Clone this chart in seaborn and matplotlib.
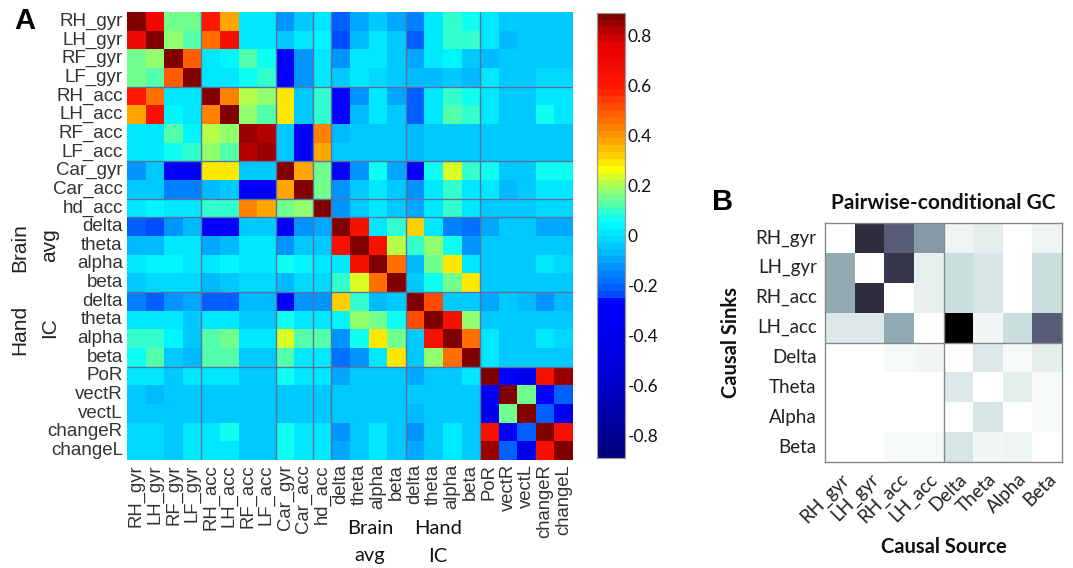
import numpy as np
import pandas as pd
import seaborn as sns
import matplotlib
matplotlib.use("Agg")
import matplotlib.pyplot as plt
from matplotlib.colors import LinearSegmentedColormap

# ---------------- data ----------------
corr_labels = ["RH_gyr", "LH_gyr", "RF_gyr", "LF_gyr", "RH_acc", "LH_acc", "RF_acc", "LF_acc",
               "Car_gyr", "Car_acc", "hd_acc", "delta", "theta", "alpha", "beta",
               "delta", "theta", "alpha", "beta", "PoR", "vectR", "vectL", "changeR", "changeL"]

corr_values = [
    [0.89, 0.7, 0.15, 0.15, 0.6, 0.37, 0.02, 0.02, -0.12, -0.05, 0.02, -0.2, -0.1, -0.05, -0.1, -0.15, 0.0, 0.1, 0.07, 0.0, -0.03, -0.03, -0.03, -0.03],
    [0.7, 0.89, 0.18, 0.12, 0.45, 0.65, 0.02, 0.02, -0.05, 0.0, 0.04, -0.25, -0.08, 0.02, -0.05, -0.2, 0.0, 0.1, 0.1, 0.0, -0.07, -0.03, -0.03, -0.03],
    [0.15, 0.18, 0.89, 0.48, 0.0, 0.03, 0.13, 0.08, -0.3, -0.12, 0.02, -0.12, 0.0, 0.02, -0.03, -0.1, 0.0, 0.03, -0.03, -0.07, -0.04, -0.04, -0.04, -0.04],
    [0.15, 0.12, 0.48, 0.89, 0.0, 0.0, 0.07, 0.1, -0.3, -0.12, 0.0, -0.05, 0.0, -0.02, -0.03, -0.08, -0.07, -0.05, -0.07, 0.0, -0.05, -0.05, -0.02, -0.02],
    [0.6, 0.45, 0.02, 0.0, 0.89, 0.42, 0.2, 0.17, 0.28, -0.05, 0.1, -0.28, -0.12, 0.0, -0.1, -0.2, 0.02, 0.1, 0.08, 0.02, -0.03, -0.03, 0.0, 0.0],
    [0.37, 0.65, 0.03, 0.0, 0.42, 0.89, 0.17, 0.13, 0.28, -0.03, 0.1, -0.28, -0.08, 0.02, -0.05, -0.2, 0.02, 0.13, 0.1, 0.02, -0.03, -0.03, 0.06, 0.02],
    [0.0, 0.0, 0.13, 0.05, 0.2, 0.17, 0.86, 0.83, -0.05, -0.32, 0.42, -0.06, -0.04, -0.04, -0.04, -0.07, -0.05, -0.03, -0.04, -0.04, -0.04, -0.04, -0.04, -0.04],
    [0.0, 0.0, 0.07, 0.09, 0.17, 0.13, 0.83, 0.86, -0.05, -0.32, 0.38, -0.05, -0.04, -0.03, -0.04, -0.07, -0.04, -0.03, -0.04, -0.04, -0.04, -0.04, -0.04, -0.04],
    [-0.12, -0.05, -0.32, -0.32, 0.28, 0.28, -0.05, -0.05, 0.89, 0.37, 0.15, -0.35, -0.12, 0.08, -0.1, -0.3, 0.06, 0.25, 0.1, 0.06, -0.03, -0.03, 0.08, 0.08],
    [-0.05, -0.03, -0.15, -0.15, -0.07, -0.05, -0.32, -0.32, 0.37, 0.89, 0.15, -0.12, -0.05, 0.02, -0.03, -0.12, 0.02, 0.1, 0.0, 0.0, -0.06, -0.03, 0.0, 0.0],
    [0.02, 0.03, 0.02, 0.0, 0.1, 0.1, 0.42, 0.38, 0.15, 0.17, 0.89, -0.12, -0.05, 0.02, -0.03, -0.1, 0.02, 0.1, 0.02, -0.03, -0.05, -0.04, -0.02, -0.02],
    [-0.2, -0.25, -0.12, -0.08, -0.28, -0.28, -0.05, -0.05, -0.35, -0.12, -0.1, 0.89, 0.65, 0.02, 0.1, 0.33, 0.02, -0.15, -0.18, -0.1, -0.05, -0.05, -0.1, -0.1],
    [-0.07, -0.07, 0.0, 0.0, -0.1, -0.08, 0.0, 0.0, -0.12, -0.05, -0.05, 0.65, 0.89, 0.65, 0.22, 0.1, 0.18, 0.08, -0.12, -0.03, -0.03, -0.03, -0.05, -0.03],
    [0.0, 0.03, 0.03, 0.02, 0.0, 0.03, 0.0, 0.0, 0.08, 0.03, 0.02, 0.02, 0.65, 0.89, 0.45, -0.07, 0.15, 0.3, 0.02, -0.03, -0.05, -0.03, 0.0, -0.02],
    [-0.05, -0.02, -0.02, -0.02, -0.07, -0.05, -0.02, -0.02, -0.08, -0.02, -0.02, 0.1, 0.25, 0.45, 0.89, -0.05, 0.07, 0.15, 0.3, -0.04, -0.04, -0.04, -0.04, -0.04],
    [-0.15, -0.2, -0.12, -0.1, -0.22, -0.22, -0.07, -0.07, -0.3, -0.12, -0.12, 0.33, 0.1, -0.07, -0.05, 0.89, 0.52, -0.03, -0.03, -0.1, -0.05, -0.08, -0.12, -0.08],
    [0.0, 0.0, 0.0, -0.05, 0.02, 0.02, -0.03, -0.03, 0.08, 0.02, 0.02, 0.03, 0.17, 0.15, 0.08, 0.52, 0.89, 0.65, 0.17, -0.03, -0.05, -0.05, -0.03, -0.03],
    [0.1, 0.1, 0.03, -0.03, 0.13, 0.15, 0.0, 0.0, 0.25, 0.13, 0.13, -0.12, 0.08, 0.3, 0.15, -0.03, 0.65, 0.89, 0.45, 0.0, -0.05, -0.03, 0.02, -0.02],
    [0.08, 0.12, -0.03, -0.07, 0.12, 0.13, -0.03, -0.03, 0.13, 0.02, 0.02, -0.18, -0.12, 0.02, 0.3, -0.03, 0.17, 0.45, 0.89, 0.0, -0.05, -0.05, -0.03, -0.05],
    [0.0, 0.0, -0.05, 0.02, 0.02, 0.02, -0.03, -0.03, 0.06, 0.0, 0.0, -0.1, -0.05, -0.03, -0.05, -0.1, -0.05, -0.03, 0.0, 0.89, -0.3, -0.4, 0.65, 0.85],
    [-0.03, -0.07, -0.03, -0.05, -0.03, -0.03, -0.03, -0.03, -0.03, -0.05, -0.05, -0.05, -0.05, -0.05, -0.05, -0.05, -0.05, -0.05, -0.05, -0.3, 0.89, 0.15, -0.3, -0.2],
    [-0.03, -0.03, -0.03, -0.05, -0.03, -0.03, -0.03, -0.03, -0.03, -0.05, -0.03, -0.05, -0.04, -0.04, -0.04, -0.06, -0.04, -0.04, -0.05, -0.4, 0.15, 0.89, -0.2, -0.4],
    [-0.02, -0.02, -0.03, 0.0, 0.02, 0.06, -0.03, -0.03, 0.08, 0.0, 0.0, -0.12, -0.04, 0.0, -0.04, -0.12, -0.04, 0.0, -0.03, 0.65, -0.3, -0.2, 0.89, 0.65],
    [-0.02, -0.02, -0.03, 0.0, 0.02, 0.02, -0.03, -0.03, 0.08, 0.0, 0.0, -0.1, -0.04, 0.0, -0.05, -0.1, -0.04, 0.0, -0.03, 0.85, -0.2, -0.4, 0.65, 0.89],
]
group_edges = [4, 8, 10, 11, 15, 19]
cbar_ticks = [-0.8, -0.6, -0.4, -0.2, 0, 0.2, 0.4, 0.6, 0.8]

gc_sinks = ["RH_gyr", "LH_gyr", "RH_acc", "LH_acc", "Delta", "Theta", "Alpha", "Beta"]
gc_sources = ["RH_gyr", "LH_gyr", "RH_acc", "LH_acc", "Delta", "Theta", "Alpha", "Beta"]
gc_values = [
    [0.0, 0.80, 0.60, 0.40, 0.05, 0.08, 0.0, 0.05],
    [0.35, 0.0, 0.75, 0.07, 0.15, 0.12, 0.0, 0.15],
    [0.35, 0.80, 0.0, 0.07, 0.15, 0.12, 0.0, 0.15],
    [0.10, 0.10, 0.35, 0.0, 1.00, 0.04, 0.15, 0.60],
    [0.0, 0.0, 0.03, 0.04, 0.0, 0.10, 0.03, 0.08],
    [0.0, 0.0, 0.0, 0.0, 0.10, 0.0, 0.08, 0.03],
    [0.0, 0.0, 0.0, 0.0, 0.0, 0.12, 0.0, 0.03],
    [0.0, 0.0, 0.03, 0.03, 0.12, 0.04, 0.05, 0.0],
]

# ---------------- style ----------------
sns.set_theme(style="white")
plt.rcParams['font.family'] = ['Liberation Sans', 'DejaVu Sans']
plt.rcParams['axes.unicode_minus'] = False

# MATLAB-like jet as seen on the colorbar
vmin, vmax = -0.89, 0.89
anchors = [(-0.89, (0.0, 0.0, 0.5)), (-0.55, (0.0, 0.0, 0.85)), (-0.27, (0.0, 0.0, 1.0)),
           (-0.25, (0.0, 0.28, 1.0)), (-0.15, (0.0, 0.52, 1.0)), (-0.07, (0.0, 0.73, 1.0)),
           (0.0, (0.0, 0.88, 1.0)), (0.06, (0.0, 1.0, 1.0)), (0.12, (0.3, 1.0, 0.7)),
           (0.17, (0.5, 1.0, 0.5)), (0.22, (0.75, 1.0, 0.25)), (0.27, (1.0, 1.0, 0.0)),
           (0.33, (1.0, 0.8, 0.0)), (0.40, (1.0, 0.6, 0.0)), (0.50, (1.0, 0.35, 0.0)),
           (0.60, (1.0, 0.1, 0.0)), (0.78, (0.9, 0.0, 0.0)), (0.89, (0.5, 0.0, 0.0))]
cmap_jet = LinearSegmentedColormap.from_list(
    "jetlike", [((v - vmin) / (vmax - vmin), c) for v, c in anchors], N=64)

W, H = 1073, 568
fig = plt.figure(figsize=(W / 100, H / 100), dpi=100)

def ax_px(x0, y0, x1, y1):
    return fig.add_axes([x0 / W, 1 - y1 / H, (x1 - x0) / W, (y1 - y0) / H])

axA = ax_px(127, 12, 573, 460)
caxA = ax_px(597, 13, 625, 458)
axB = ax_px(825, 223, 1062, 462)

# ---------------- panel A ----------------
dfA = pd.DataFrame(np.array(corr_values))
sns.heatmap(dfA, ax=axA, cmap=cmap_jet, vmin=vmin, vmax=vmax, cbar=True, cbar_ax=caxA,
            xticklabels=corr_labels, yticklabels=corr_labels, square=False)
line_col = (0.35, 0.45, 0.62)
for e in group_edges:
    axA.axhline(e, color=line_col, lw=1.0)
    axA.axvline(e, color=line_col, lw=1.0)
axA.tick_params(axis='both', length=0, pad=3)
axA.set_yticklabels(corr_labels, fontsize=13.5, color='#333333', rotation=0)
axA.set_xticklabels(corr_labels, fontsize=13.3, color='#333333', rotation=90)
axA.set_xlabel("")
axA.set_ylabel("")

caxA.set_yticks(cbar_ticks)
caxA.set_yticklabels([f"{t:g}" for t in cbar_ticks], fontsize=12.5, family=['Lato', 'DejaVu Sans'],
                     color='#111111')
caxA.tick_params(axis='y', direction='in', length=4, color='#666666', pad=2)
for s in caxA.spines.values():
    s.set_visible(True)
    s.set_edgecolor('#999999')
    s.set_linewidth(0.8)

# group labels
grp_kw = dict(rotation=90, ha='center', va='center', fontsize=15, color='#222222')
fig.text(20 / W, 1 - 248 / H, "Brain", **grp_kw)
fig.text(50 / W, 1 - 245 / H, "avg", **grp_kw)
fig.text(20 / W, 1 - 330 / H, "Hand", **grp_kw)
fig.text(50 / W, 1 - 328 / H, "IC", **grp_kw)
bot_kw = dict(ha='center', va='center', fontsize=14.5, family=['Lato', 'DejaVu Sans'], color='#111111')
fig.text(370 / W, 1 - 528 / H, "Brain", **bot_kw)
fig.text(370 / W, 1 - 556 / H, "avg", **bot_kw)
fig.text(438 / W, 1 - 528 / H, "Hand", **bot_kw)
fig.text(438 / W, 1 - 556 / H, "IC", **bot_kw)

fig.text(25 / W, 1 - 21 / H, "A", ha='center', va='center', fontsize=21, fontweight='bold', color='black')
fig.text(723 / W, 1 - 202 / H, "B", ha='center', va='center', fontsize=21, fontweight='bold', color='black')

# ---------------- panel B ----------------
dfB = pd.DataFrame(np.array(gc_values), index=gc_sinks, columns=gc_sources)
sns.heatmap(dfB, ax=axB, cmap='bone_r', vmin=0, vmax=1, cbar=False,
            xticklabels=gc_sources, yticklabels=gc_sinks)
axB.axhline(4, color='#888888', lw=1.0)
axB.axvline(4, color='#888888', lw=1.0)
for s in axB.spines.values():
    s.set_visible(True)
    s.set_edgecolor('#888888')
    s.set_linewidth(1.0)
axB.tick_params(axis='both', direction='in', length=3, color='#555555', left=True, bottom=True,
                right=True, pad=6)
fontB = ['Lato', 'DejaVu Sans']
axB.set_yticklabels(gc_sinks, fontsize=13.5, family=fontB, color='#222222', rotation=0)
axB.set_xticklabels(gc_sources, fontsize=13.5, family=fontB, color='#222222', rotation=45,
                    ha='right', rotation_mode='anchor')
axB.set_title("Pairwise-conditional GC", fontsize=15, fontweight='bold', family=fontB, pad=10,
              color='#111111', x=0.5)
axB.set_ylabel("Causal Sinks", fontsize=14.5, fontweight='bold', family=fontB, labelpad=10, color='#111111')
axB.set_xlabel("Causal Source", fontsize=14.5, fontweight='bold', family=fontB, labelpad=8, color='#111111')

fig.savefig("out.png", dpi=100)
